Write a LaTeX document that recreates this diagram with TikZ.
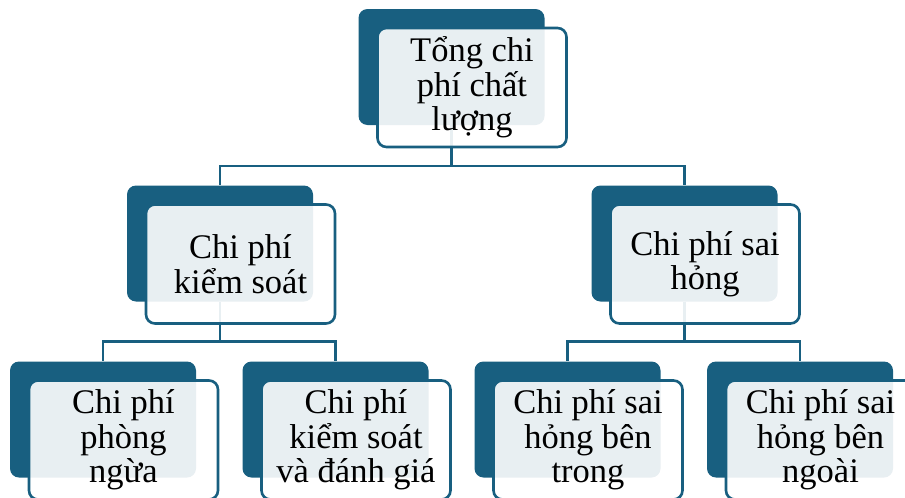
\documentclass[tikz,border=0pt]{standalone}
\usepackage{fontspec}
\setmainfont{Liberation Serif}
\usetikzlibrary{calc}
\begin{document}
\definecolor{deepteal}{RGB}{24,95,128}
\begin{tikzpicture}[x=1pt,y=-1pt,
  backbox/.style={fill=deepteal, rounded corners=9pt, minimum width=186pt,
    minimum height=116pt, inner sep=0pt},
  frontbox/.style={draw=deepteal, line width=2.6pt, fill=white, fill opacity=0.9,
    text opacity=1, rounded corners=9pt, minimum width=189pt,
    minimum height=119pt, inner sep=0pt, align=center,
    font=\fontsize{34.5}{34.5}\selectfont},
  link/.style={draw=deepteal, line width=2.5pt}]
\clip (0,0) rectangle (905,498);
% back plates (level by level)
\node[backbox] (t0) at (451.5,67) {};
\node[backbox] (l0) at (220,243.5) {};
\node[backbox] (r0) at (684.5,243.5) {};
\node[backbox] (a0) at (103,419.5) {};
\node[backbox] (b0) at (335.5,419.5) {};
\node[backbox] (c0) at (567.5,419.5) {};
\node[backbox] (d0) at (800,419.5) {};
% connectors, drawn under the translucent text boxes
\draw[link] (t0.south) -- ++(0,41) coordinate (tj) -| (l0.north);
\draw[link] (tj) -| (r0.north);
\draw[link] (l0.south) -- ++(0,40) coordinate (lj) -| (a0.north);
\draw[link] (lj) -| (b0.north);
\draw[link] (r0.south) -- ++(0,40) coordinate (rj) -| (c0.north);
\draw[link] (rj) -| (d0.north);
% text boxes
\node[frontbox] (t) at ($(t0)+(20.5,20.5)$) {Tổng chi\\phí chất\\lượng};
\node[frontbox] (l) at ($(l0)+(20.5,20.5)$) {Chi phí\\kiểm soát};
\node[frontbox] (r) at ($(r0)+(20.5,20.5)$) {Chi phí sai\\hỏng};
\node[frontbox] (a) at ($(a0)+(20.5,20.5)$) {Chi phí\\phòng\\ngừa};
\node[frontbox] (b) at ($(b0)+(20.5,20.5)$) {Chi phí\\kiểm soát\\và đánh giá};
\node[frontbox] (c) at ($(c0)+(20.5,20.5)$) {Chi phí sai\\hỏng bên\\trong};
\node[frontbox] (d) at ($(d0)+(20.5,20.5)$) {Chi phí sai\\hỏng bên\\ngoài};
\end{tikzpicture}
\end{document}
